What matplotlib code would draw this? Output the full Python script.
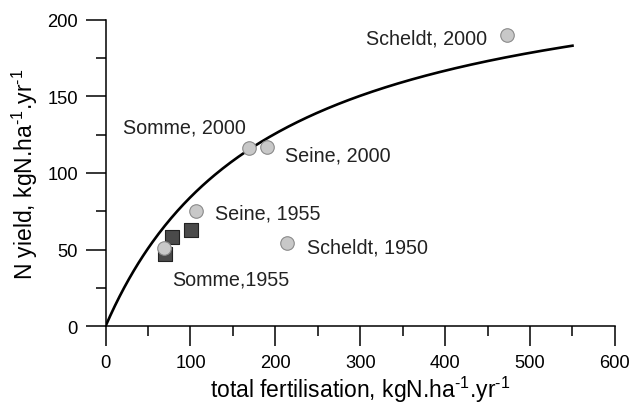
import numpy as np
import matplotlib
matplotlib.use("Agg")
import matplotlib.pyplot as plt

plt.rcParams['font.family'] = ['Liberation Sans', 'DejaVu Sans']
plt.rcParams['mathtext.fontset'] = 'custom'
plt.rcParams['mathtext.rm'] = 'Liberation Sans'
plt.rcParams['mathtext.it'] = 'Liberation Sans:italic'

# Circles (river basins)
circle_names = ['Scheldt, 2000', 'Somme, 2000', 'Seine, 2000', 'Seine, 1955', 'Scheldt, 1950', 'Somme,1955']
circle_fert = [473, 169, 190, 106, 214, 69]
circle_yield = [190, 116, 117, 75, 54, 51]

# Squares
square_fert = [70, 78, 101]
square_yield = [47, 58, 63]

# Fitted curve y = ymax * x / (x + k)
ymax = 247.6
k = 194
curve_xmax = 550

# label positions (data coords) and alignment
label_x = [450, 21, 211, 129, 237, 79]
label_y = [188, 130, 112, 74, 52, 31]
label_ha = ['right', 'left', 'left', 'left', 'left', 'left']

fig = plt.figure(figsize=(6.32, 4.06), dpi=100)
ax = fig.add_axes([0.167, 0.194, 0.806, 0.755])

xc = np.linspace(0, curve_xmax, 300)
ax.plot(xc, ymax * xc / (xc + k), color='black', lw=1.9, zorder=2)

ax.scatter(square_fert, square_yield, marker='s', s=95, color='#4a4a4a',
           edgecolor='#222222', linewidth=0.8, zorder=3)
ax.scatter(circle_fert, circle_yield, marker='o', s=95, color='#c8c8c8',
           edgecolor='#8a8a8a', linewidth=0.8, zorder=4)

for name, x, y, ha in zip(circle_names, label_x, label_y, label_ha):
    ax.text(x, y, name, ha=ha, va='center', fontsize=14.2, color='#222222')

ax.set_xlim(0, 600)
ax.set_ylim(0, 200)
ax.set_xticks(np.arange(0, 601, 100))
ax.set_xticks(np.arange(50, 600, 100), minor=True)
ax.set_yticks(np.arange(0, 201, 50))
ax.set_yticks(np.arange(25, 200, 50), minor=True)

for s in ['top', 'right']:
    ax.spines[s].set_visible(False)
for s in ['left', 'bottom']:
    ax.spines[s].set_linewidth(1.1)

ax.tick_params(which='major', direction='out', length=14.5, width=1.1, labelsize=13.2, pad=5.5)
ax.tick_params(which='minor', direction='out', length=7, width=1.1)

ax.set_xlabel(r'total fertilisation, kgN.ha$^{\text{-1}}$.yr$^{\text{-1}}$', fontsize=16.5, labelpad=2)
ax.set_ylabel(r'N yield, kgN.ha$^{\text{-1}}$.yr$^{\text{-1}}$', fontsize=16.5, labelpad=5)

fig.savefig('out.png', dpi=100)
